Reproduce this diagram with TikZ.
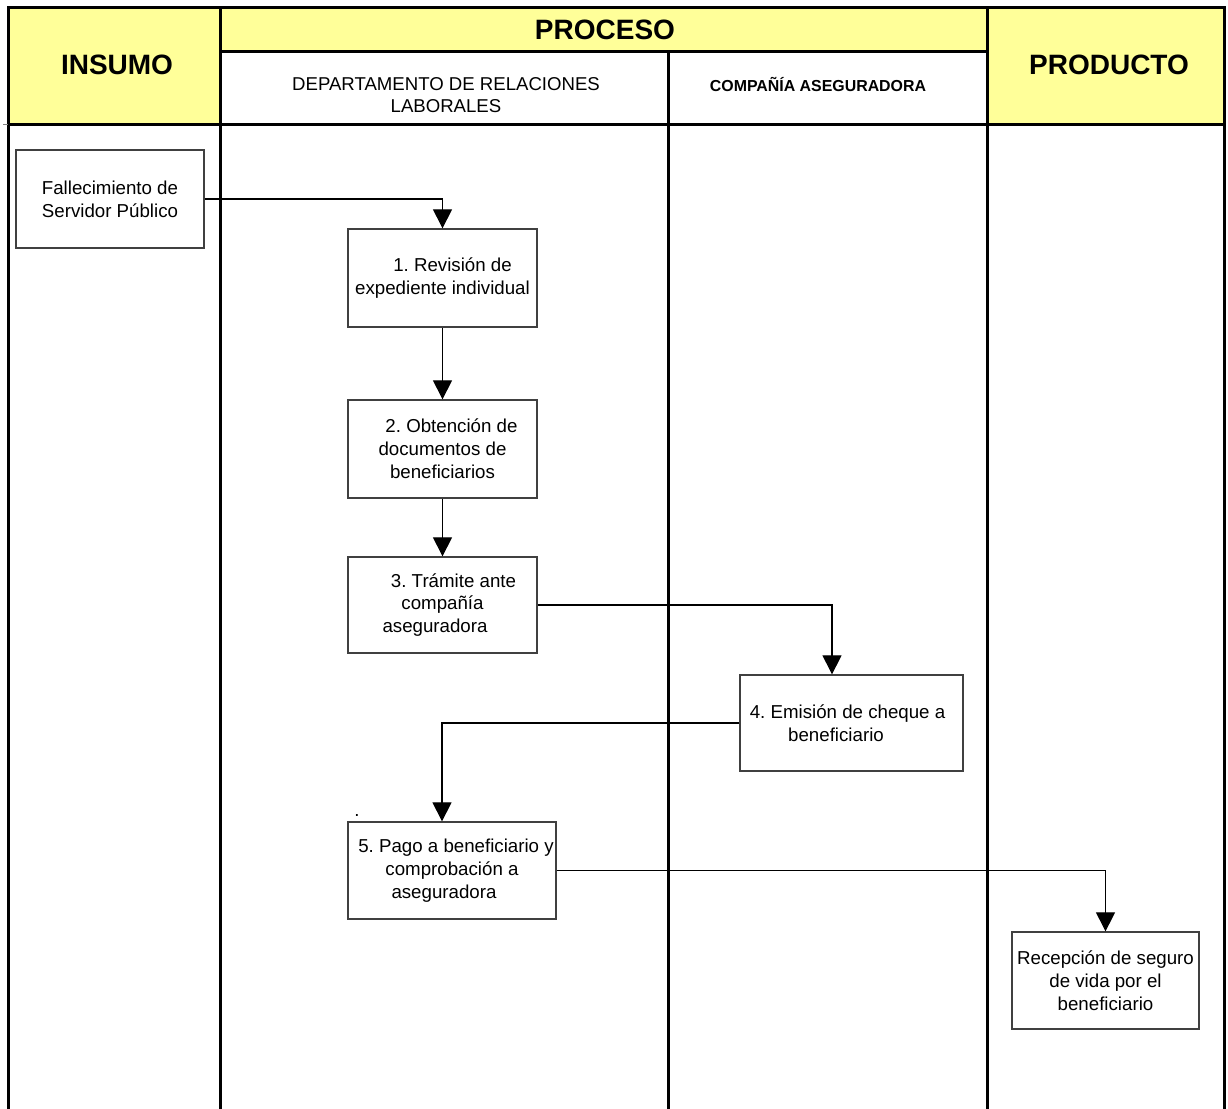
\documentclass[tikz,border=0pt]{standalone}
\usepackage{fontspec}
\setmainfont{Liberation Sans}
\usetikzlibrary{arrows.meta}
\definecolor{hdryellow}{HTML}{FFFF99}
\frenchspacing
\begin{document}
\begin{tikzpicture}[x=1pt,y=-1pt,
  lane/.style={line width=3pt,black,line cap=rect},
  stepbox/.style={draw=black!75,line width=1.3pt,inner sep=0pt,align=center,
    font=\fontsize{18.7}{22.8}\selectfont},
  flow/.style={draw=black,line width=1.1pt,-{Triangle[width=19pt,length=19pt]}},
  bighead/.style={font=\fontsize{28}{32}\selectfont\bfseries},
  lanehead/.style={font=\fontsize{18.6}{21.5}\selectfont,align=center}
]
\useasboundingbox (0,0) rectangle (1228,1108);

% header cells
\fill[hdryellow] (8,8) rectangle (220,124);
\fill[hdryellow] (220,8) rectangle (987,52);
\fill[hdryellow] (987,8) rectangle (1224,124);

% grid of the swimlane table
\draw[lane] (8,8) -- (1224,8);
\draw[lane] (220,52) -- (987,52);
\draw[lane] (8,124) -- (1224,124);
\draw[lane] (8,8) -- (8,1112);
\draw[lane] (220,8) -- (220,1112);
\draw[lane] (668,52) -- (668,1112);
\draw[lane] (987,8) -- (987,1112);
\draw[lane] (1224,8) -- (1224,1112);
\draw[gray,line width=1pt] (3,124) -- (8,124);

% header texts
\node[bighead] (insumo) at (117,65) {INSUMO};
\node[bighead] (proceso) at (605,30) {PROCESO};
\node[bighead] (producto) at (1109,65) {PRODUCTO};
\node[lanehead] (drl) at (446,95) {DEPARTAMENTO DE RELACIONES\\LABORALES};
\node[font=\fontsize{15.9}{18}\selectfont\bfseries,anchor=base] (cia) at (818,92) {COMPAÑÍA ASEGURADORA};

% process steps
\node[stepbox,minimum width=188pt,minimum height=98pt] (fall) at (110,199)
  {Fallecimiento de\\Servidor Público};
\node[stepbox,minimum width=189pt,minimum height=98pt] (b1) at (442.5,278)
  {\hspace*{20pt}1. Revisión de\\expediente individual};
\node[stepbox,minimum width=189pt,minimum height=98pt] (b2) at (442.5,449)
  {\hspace*{18pt}2. Obtención de\\documentos de\\beneficiarios};
\node[stepbox,minimum width=189pt,minimum height=96pt] (b3) at (442.5,605)
  {\hspace*{22pt}3. Trámite ante\\compañía\hspace*{20pt}\\aseguradora\hspace*{15pt}};
\node[stepbox,minimum width=223pt,minimum height=96pt] (b4) at (851.5,723)
  {4. Emisión de cheque a\hspace*{8pt}\\beneficiario\hspace*{31pt}};
\node[stepbox,minimum width=208pt,minimum height=97pt] (b5) at (452,870.5)
  {\hspace*{8pt}5. Pago a beneficiario y\\comprobación a\hspace*{14pt}\\aseguradora\hspace*{16pt}};
\node[stepbox,minimum width=187pt,minimum height=97pt] (b6) at (1105.5,980.5)
  {Recepción de seguro\\de vida por el\\beneficiario};
\node[font=\fontsize{18.7}{22}\selectfont,anchor=base,inner sep=0pt] (dot) at (357,816) {.};

% connectors
\draw[flow] (fall.east) -| (b1.north);
\draw[flow] (b1.south) -- (b2.north);
\draw[flow] (b2.south) -- (b3.north);
\draw[flow] (b3.east) -| ([xshift=-19.5pt]b4.north);
\draw[flow] (b4.west) -| ([xshift=-10pt]b5.north);
\draw[flow] (b5.east) -| (b6.north);
\end{tikzpicture}
\end{document}
